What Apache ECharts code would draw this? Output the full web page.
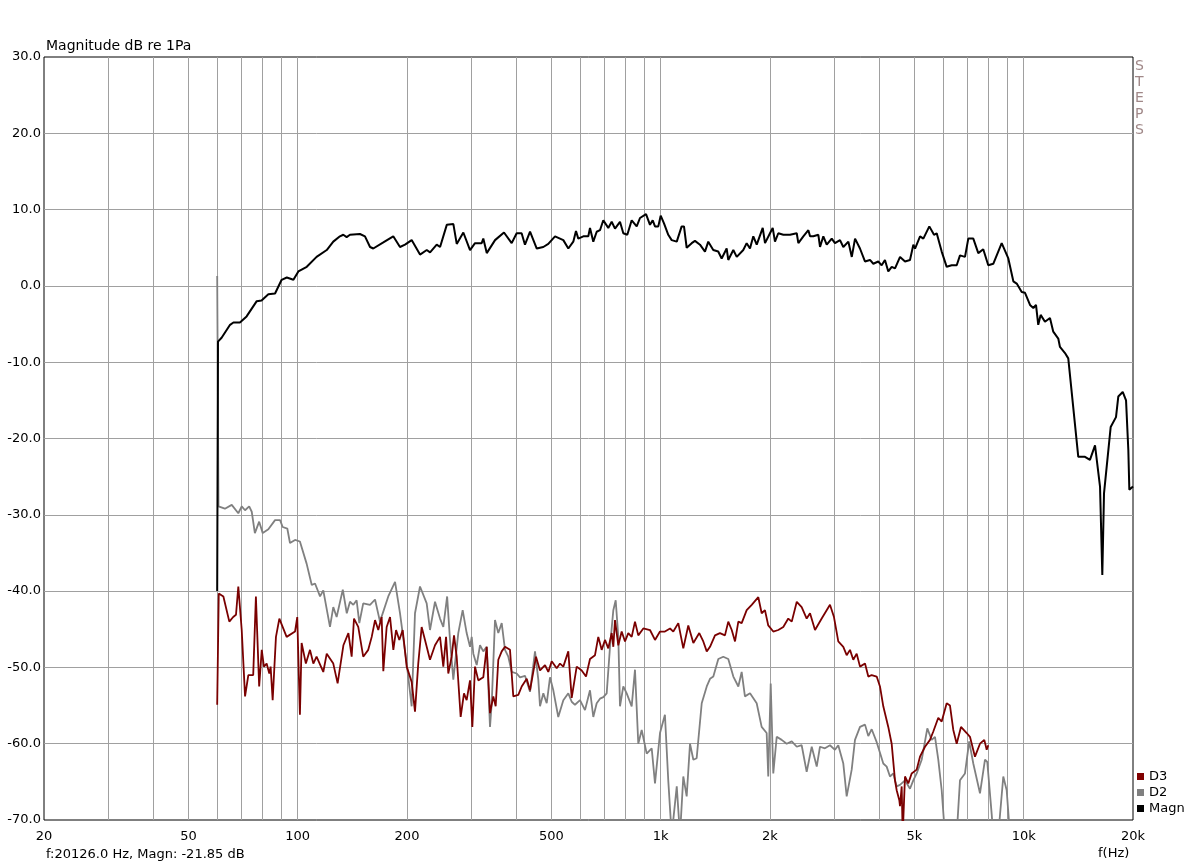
<!DOCTYPE html>
<html><head><meta charset="utf-8">
<script src="https://cdn.jsdelivr.net/npm/echarts@6/dist/echarts.min.js"></script>
<style>html,body{margin:0;padding:0;background:#fff}#c{width:1193px;height:868px}</style>
</head><body><div id="c"></div>
<script>
// ---- data (frequency in Hz, level in dB) ----
const xLabelHz = [20, 50, 100, 200, 500, 1000, 2000, 5000, 10000, 20000];
const xGridHz = [30, 40, 50, 60, 70, 80, 90, 100, 200, 300, 400, 500, 600, 700, 800, 900,
  1000, 2000, 3000, 4000, 5000, 6000, 7000, 8000, 9000, 10000];
const yLabelDb = [-70, -60, -50, -40, -30, -20, -10, 0, 10, 20, 30];
const yGridDb = [-60, -50, -40, -30, -20, -10, 0, 10, 20];
const legendNames = ['D3', 'D2', 'Magn'];

const magnFreq = [
  60.0, 60.3, 61.7, 65.1, 66.5, 69.3, 72.3, 77.1, 79.5, 83.0,
  86.6, 90.3, 93.3, 97.3, 100.4, 105.9, 112.7, 120.2, 125.3, 130.7,
  133.5, 136.4, 139.3, 148.4, 153.2, 158.2, 161.5, 172.1, 183.3, 191.3,
  197.5, 206, 217.2, 226.7, 231.5, 241.5, 246.7, 257.4, 268.4, 274.2,
  285.9, 298.3, 307.9, 321.2, 324.5, 331.7, 349.6, 370, 388.5, 401,
  413.8, 422.7, 436.5, 455.5, 474.8, 490.1, 511.5, 527.9, 539.1, 556.5,
  574.3, 584.2, 592.8, 612, 631.7, 638.5, 652, 666.2, 680.3, 694.7,
  717, 732.7, 748.2, 772.3, 788.7, 808.9, 831.8, 858.6, 876.8, 911,
  934.2, 950.4, 964.3, 984.7, 999.8, 1021, 1049, 1072, 1107, 1142,
  1159, 1179, 1217, 1242.6, 1256, 1282.8, 1324, 1352, 1395.5, 1440,
  1471.8, 1519.2, 1534.8, 1584.9, 1619.6, 1688.1, 1725, 1761.5, 1799, 1838.5,
  1909.7, 1937.8, 2000, 2034.5, 2064.3, 2108, 2176.4, 2271, 2369.7, 2394,
  2471, 2551, 2578.5, 2633, 2717.8, 2747, 2805, 2866, 2958.3, 3020,
  3118, 3184.4, 3287.6, 3360, 3430.4, 3539, 3653, 3771.2, 3851.6, 3975,
  4061.3, 4147, 4235, 4329, 4420, 4563.4, 4709.6, 4860.6, 4965, 5019,
  5180.5, 5290, 5494.6, 5660.8, 5758.5, 5943, 6004, 6134.7, 6332, 6537,
  6674.5, 6890, 7035.7, 7263, 7495.5, 7735.6, 7985.4, 8243, 8696, 9068.6,
  9362.3, 9565, 9874, 10083, 10407, 10628, 10810, 10965, 11133, 11443,
  11811, 12061, 12450, 12585, 12992, 13265, 14134, 14750, 15221, 15718,
  16225, 16462, 16640, 17359, 17955, 18218, 18736, 19136, 19416, 19540,
  20000];
const magnDb = [
  -40, -7.3, -6.8, -5.1, -4.8, -4.8, -4.0, -2.0, -1.9, -1.1,
  -1.0, 0.8, 1.1, 0.8, 1.9, 2.5, 3.8, 4.7, 5.8, 6.5,
  6.7, 6.4, 6.7, 6.8, 6.5, 5.1, 4.9, 5.7, 6.5, 5.1,
  5.4, 6.0, 4.1, 4.7, 4.4, 5.4, 5.1, 8.0, 8.1, 5.5,
  7.0, 4.7, 5.6, 5.6, 6.2, 4.3, 6.0, 7.0, 5.6, 6.9,
  6.9, 5.4, 7.1, 4.9, 5.1, 5.5, 6.5, 6.2, 6.0, 4.9,
  5.8, 7.2, 6.2, 6.5, 6.5, 7.6, 5.8, 7.1, 7.3, 8.6,
  7.6, 8.4, 7.5, 8.4, 6.9, 6.7, 8.6, 7.8, 8.9, 9.4,
  8.0, 8.6, 7.8, 7.8, 9.2, 8.2, 6.7, 6.0, 5.8, 7.8,
  7.8, 5.0, 5.6, 5.9, 6.1, 5.4, 4.5, 5.8, 4.7, 4.5,
  3.6, 4.9, 3.4, 4.7, 3.8, 4.7, 5.6, 4.9, 6.5, 5.4,
  7.6, 5.6, 6.9, 7.6, 5.8, 6.9, 6.7, 6.7, 6.9, 5.6,
  6.5, 7.3, 6.5, 6.5, 6.7, 5.1, 6.5, 5.4, 6.2, 5.6,
  6.0, 5.1, 5.8, 3.8, 6.2, 4.9, 3.2, 3.4, 2.9, 3.2,
  2.7, 3.4, 1.9, 2.5, 2.3, 3.8, 3.2, 3.4, 5.4, 4.9,
  6.5, 6.2, 7.8, 6.7, 6.9, 4.5, 4.7, 2.5, 2.7, 2.7,
  4.0, 3.8, 6.2, 6.2, 4.3, 4.8, 2.7, 2.9, 5.6, 3.6,
  0.6, 0.3, -0.8, -0.9, -2.5, -2.9, -2.5, -5.1, -3.8, -4.7,
  -4.2, -6.0, -6.9, -8.0, -8.8, -9.5, -22.4, -22.4, -22.8, -20.9,
  -26.3, -37.9, -27.2, -18.5, -17.2, -14.5, -13.9, -15.0, -21.5, -26.7,
  -26.3];

const d2Freq = [
  60.0, 60.5, 61.1, 63.0, 65.8, 68.6, 70.1, 71.6, 73.5, 74.7,
  76.2, 78.3, 80.1, 83.0, 86.6, 89.4, 90.9, 93.6, 95.2, 98.3,
  101.4, 105.8, 109.3, 111.6, 115.2, 117.6, 122.7, 125.3, 128.0, 133.1,
  136.5, 139.3, 142.3, 145.3, 147.8, 151.5, 158.2, 163.3, 168.5, 177.6,
  185.4, 191.3, 199.6, 206.0, 210.4, 217.2, 226.6, 231.4, 238.9, 246.6,
  251.8, 258.0, 262.7, 268.3, 271.2, 276.9, 284.7, 292.0, 298.3, 301.5,
  304.6, 311.2, 317.8, 324.5, 331.6, 338.6, 342.3, 349.5, 356.9, 364.7,
  372.4, 380.3, 388.6, 401.1, 409.6, 422.8, 436.4, 450.5, 460.0, 465.0,
  474.9, 485.2, 495.4, 505.9, 522.1, 539.1, 556.4, 568.5, 580.5, 599.3,
  618.6, 638.5, 652.0, 666.2, 680.3, 694.7, 709.8, 724.9, 740.3, 751.5,
  764.1, 772.3, 788.7, 805.8, 831.8, 849.4, 867.3, 886.3, 914.9, 944.3,
  964.3, 995.4, 1027, 1049, 1072, 1107, 1130, 1154, 1179, 1204,
  1230, 1256, 1297, 1339, 1367, 1396, 1441, 1487, 1535, 1585,
  1636, 1671, 1706, 1762, 1838, 1897, 1958, 1978, 2009, 2042,
  2087, 2154, 2223, 2296, 2370, 2445, 2524, 2606, 2690, 2746,
  2834, 2926, 3020, 3084, 3184, 3253, 3358, 3429, 3540, 3654,
  3731, 3812, 3935, 4018, 4103, 4192, 4281, 4372, 4467, 4562,
  4709, 4860, 4963, 5071, 5235, 5425, 5578, 5696, 5816, 5943,
  6068, 6536, 6674, 6889, 7075, 7262, 7577, 7821, 7936, 8160,
  8244, 8509, 8784, 8975, 9165];
const d2Db = [
  1.3, -28.9, -28.9, -29.2, -28.7, -29.8, -28.9, -29.4, -28.9, -29.6,
  -32.4, -30.9, -32.4, -31.9, -30.7, -30.7, -31.6, -31.8, -33.7, -33.3,
  -33.5, -36.4, -39.2, -39.0, -40.7, -39.9, -44.7, -42.1, -43.4, -39.8,
  -42.9, -41.4, -41.8, -41.2, -44.2, -41.6, -41.8, -41.1, -44.0, -40.7,
  -38.8, -42.9, -49.5, -55.1, -42.9, -39.4, -41.6, -45.1, -41.4, -43.6,
  -44.7, -40.7, -46.4, -51.6, -49.5, -45.5, -42.5, -45.5, -47.3, -46.0,
  -48.2, -49.7, -47.1, -47.9, -47.3, -57.8, -54.7, -43.8, -45.5, -44.2,
  -47.7, -48.6, -50.6, -50.8, -51.3, -51.1, -53.2, -47.9, -51.6, -55.1,
  -53.4, -54.7, -51.3, -53.0, -56.5, -54.3, -53.4, -54.5, -54.9, -54.3,
  -55.6, -53.0, -56.5, -54.7, -54.1, -53.9, -53.4, -47.3, -42.5, -41.2,
  -46.0, -55.1, -52.5, -53.4, -55.1, -50.3, -60.0, -58.2, -61.3, -60.6,
  -65.2, -58.6, -56.2, -64.8, -72, -65.6, -72, -64.3, -66.9, -60.0,
  -62.1, -61.9, -54.7, -52.5, -51.5, -51.2, -48.9, -48.6, -48.9, -51.2,
  -52.5, -50.6, -53.8, -53.4, -54.7, -57.8, -58.6, -64.3, -52.1, -63.9,
  -59.1, -59.5, -60.0, -59.7, -60.4, -60.2, -63.7, -60.4, -63.0, -60.4,
  -60.6, -60.2, -60.8, -60.2, -62.6, -66.9, -63.4, -59.5, -57.8, -57.5,
  -59.0, -58.1, -59.8, -61.2, -62.6, -63.0, -64.3, -63.9, -65.6, -65.4,
  -64.8, -65.9, -64.8, -63.9, -62.1, -58.0, -59.5, -59.1, -62.1, -66.1,
  -72, -72, -64.8, -63.9, -59.7, -62.6, -66.5, -62.1, -62.4, -69.2,
  -72, -72, -64.3, -66.1, -72];

const d3Freq = [
  60.0, 60.6, 62.4, 64.8, 66.4, 67.6, 68.6, 70.1, 71.6, 73.1,
  75.4, 76.7, 78.3, 79.6, 80.7, 82.1, 83.5, 84.2, 85.3, 87.1,
  89.0, 93.2, 98.3, 99.7, 101.4, 102.5, 105.3, 108.1, 110.4, 112.7,
  117.6, 120.2, 125.3, 128.8, 133.6, 137.9, 140.8, 142.9, 146.8, 151.5,
  156.4, 159.9, 163.3, 166.7, 170.3, 172.1, 175.8, 179.6, 183.4, 186.6,
  190.5, 194.6, 199.6, 206.0, 210.4, 214.8, 219.5, 224.2, 231.4, 238.9,
  246.6, 251.8, 256.2, 259.9, 265.5, 269.5, 274.1, 281.1, 287.1, 292.0,
  298.3, 302.7, 307.9, 314.4, 324.5, 331.6, 338.6, 345.8, 351.0, 356.9,
  364.7, 372.4, 384.4, 392.5, 405.2, 414.0, 427.4, 436.4, 453.3, 465.0,
  480.0, 490.1, 500.8, 516.9, 527.9, 539.1, 556.4, 568.5, 586.8, 605.8,
  622.6, 638.5, 659.1, 673.0, 687.6, 702.2, 717.1, 732.7, 740.3, 748.2,
  764.1, 780.6, 797.2, 814.0, 831.8, 849.4, 867.3, 895.4, 934.2, 964.3,
  995.4, 1027, 1061, 1083, 1118, 1154, 1191, 1230, 1277, 1310,
  1339, 1367, 1411, 1456, 1503, 1535, 1569, 1602, 1636, 1671,
  1725, 1781, 1857, 1897, 1937, 1978, 2042, 2108, 2176, 2246,
  2296, 2370, 2445, 2524, 2578, 2661, 2776, 2926, 3001, 3084,
  3184, 3253, 3322, 3392, 3466, 3540, 3654, 3731, 3812, 3935,
  4018, 4103, 4235, 4327, 4419, 4467, 4542, 4562, 4611, 4641,
  4709, 4808, 4912, 5071, 5179, 5346, 5518, 5635, 5816, 5943,
  6134, 6264, 6397, 6536, 6717, 6964, 7111, 7340, 7577, 7787,
  7906, 7986];
const d3Db = [
  -54.9, -40.3, -40.7, -44.0, -43.4, -43.1, -39.4, -45.1, -53.8, -51.0,
  -51.0, -40.7, -52.5, -47.7, -49.9, -49.5, -50.8, -49.9, -54.3, -46.0,
  -43.6, -46.0, -45.3, -43.4, -56.2, -46.8, -49.5, -47.7, -49.5, -48.6,
  -50.6, -48.2, -49.5, -52.1, -47.1, -45.5, -48.6, -43.6, -44.7, -48.6,
  -47.7, -46.0, -43.8, -45.1, -43.4, -50.5, -44.7, -43.4, -47.7, -45.1,
  -46.4, -45.1, -49.9, -51.9, -55.8, -49.5, -44.7, -46.4, -49.0, -47.1,
  -46.0, -49.9, -46.0, -50.8, -48.6, -45.8, -48.6, -56.5, -53.4, -54.3,
  -51.7, -57.8, -49.9, -51.7, -51.3, -47.3, -56.0, -53.8, -55.1, -49.0,
  -47.9, -47.3, -47.7, -53.8, -53.6, -52.5, -51.5, -53.0, -48.6, -50.4,
  -49.7, -50.6, -49.2, -50.1, -49.5, -49.9, -47.9, -54.0, -49.9, -50.4,
  -51.2, -48.9, -48.4, -46.0, -47.7, -46.4, -47.5, -45.5, -47.3, -43.8,
  -47.1, -45.3, -46.6, -45.5, -46.0, -44.0, -45.8, -44.9, -45.1, -46.4,
  -45.3, -45.3, -44.9, -45.3, -44.2, -47.5, -44.5, -46.8, -45.5, -46.6,
  -47.9, -47.3, -45.8, -45.5, -45.8, -44.0, -45.1, -46.6, -44.0, -44.2,
  -42.5, -41.8, -40.8, -42.9, -42.5, -44.5, -45.3, -45.1, -44.7, -43.6,
  -44.0, -41.4, -42.1, -43.6, -42.9, -45.1, -43.6, -41.8, -43.4, -46.6,
  -47.3, -48.4, -47.7, -49.0, -48.2, -49.9, -49.5, -51.2, -51.0, -51.2,
  -52.5, -55.1, -57.8, -60.0, -64.8, -66.1, -67.4, -68.2, -65.6, -72,
  -64.3, -65.2, -63.9, -63.4, -61.7, -60.4, -59.5, -58.4, -56.6, -57.1,
  -54.7, -55.0, -58.2, -60.0, -57.8, -58.6, -59.1, -61.7, -60.0, -59.5,
  -60.8, -60.2];

// ---- chart ----
const FONT = 'DejaVu Sans';
const lg = Math.log10;
function toXY(f, v) {
  const n = Math.min(f.length, v.length), out = [];
  for (let i = 0; i < n; i++) out.push([lg(f[i]), v[i]]);
  return out;
}
function fmtHz(v) {
  const f = Math.round(Math.pow(10, v));
  return f >= 1000 ? (f / 1000) + 'k' : String(f);
}
const gridColor = '#a0a0a0';
const chart = echarts.init(document.getElementById('c'), null, {renderer: 'canvas'});
chart.setOption({
  animation: false,
  backgroundColor: '#ffffff',
  textStyle: {fontFamily: FONT},
  title: {
    text: 'Magnitude dB re 1Pa', left: 46, top: 39, padding: 0,
    textStyle: {fontSize: 14, fontWeight: 'normal', color: '#000', fontFamily: FONT}
  },
  grid: {
    left: 44, top: 57, right: 60, bottom: 48, outerBoundsMode: 'none',
    show: true, borderColor: '#000', borderWidth: 1, backgroundColor: 'transparent'
  },
  legend: {
    data: legendNames, orient: 'vertical', left: 1137, top: 770, padding: 0,
    icon: 'rect', itemWidth: 7, itemHeight: 7, itemGap: 3,
    textStyle: {fontSize: 13, color: '#000', fontFamily: FONT}
  },
  xAxis: {
    type: 'value', min: lg(20), max: lg(20000),
    axisLine: {show: false},
    axisTick: {show: false, customValues: xGridHz.map(lg)},
    splitLine: {show: true, lineStyle: {color: gridColor, width: 1}},
    axisLabel: {
      customValues: xLabelHz.map(lg), formatter: fmtHz,
      color: '#000', fontSize: 13, margin: 10, fontFamily: FONT
    }
  },
  yAxis: {
    type: 'value', min: -70, max: 30, interval: 10,
    axisLine: {show: false},
    axisTick: {show: false, customValues: yGridDb},
    splitLine: {show: true, lineStyle: {color: gridColor, width: 1}},
    axisLabel: {
      customValues: yLabelDb, formatter: v => v.toFixed(1),
      color: '#000', fontSize: 13, margin: 3, fontFamily: FONT
    }
  },
  graphic: [
    {type: 'text', left: 1135, top: 58, style: {text: 'S\nT\nE\nP\nS', font: '14px "DejaVu Sans"', lineHeight: 16, fill: '#a08888'}},
    {type: 'text', left: 46, top: 848, style: {text: 'f:20126.0 Hz, Magn: -21.85 dB', font: '13px "DejaVu Sans"', fill: '#000'}},
    {type: 'text', left: 1098, top: 847, style: {text: 'f(Hz)', font: '13px "DejaVu Sans"', fill: '#000'}}
  ],
  series: [
    {name: 'D2', type: 'line', data: toXY(d2Freq, d2Db), symbol: 'none', clip: true, z: 2,
      lineStyle: {color: '#808080', width: 1.8}, itemStyle: {color: '#808080'}},
    {name: 'D3', type: 'line', data: toXY(d3Freq, d3Db), symbol: 'none', clip: true, z: 3,
      lineStyle: {color: '#7a0000', width: 1.8}, itemStyle: {color: '#800000'}},
    {name: 'Magn', type: 'line', data: toXY(magnFreq, magnDb), symbol: 'none', clip: true, z: 4,
      lineStyle: {color: '#000000', width: 2}, itemStyle: {color: '#000000'}}
  ]
});
</script>
</body></html>
